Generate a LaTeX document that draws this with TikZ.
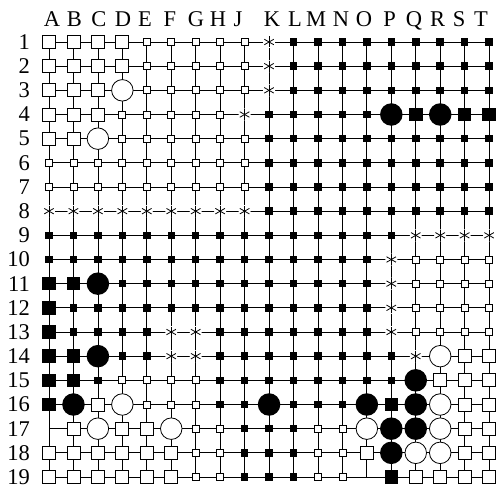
\documentclass[tikz,border=0pt]{standalone}
\usepackage{fontspec}
\setmainfont{Liberation Serif}
\begin{document}
\begin{tikzpicture}[x=1pt,y=-1pt,
  gridline/.style={line width=0.8pt, black},
  mW/.style={rectangle, draw=black, fill=white, line width=0.8pt, minimum size=13pt, inner sep=0pt},
  mw/.style={rectangle, draw=black, fill=white, line width=0.8pt, minimum size=7pt, inner sep=0pt},
  mB/.style={rectangle, fill=black, minimum size=13.5pt, inner sep=0pt},
  mb/.style={rectangle, fill=black, minimum size=7.5pt, inner sep=0pt},
  mO/.style={circle, draw=black, fill=white, line width=0.8pt, minimum size=21.5pt, inner sep=0pt},
  mX/.style={circle, fill=black, minimum size=22.5pt, inner sep=0pt},
  mA/.style={circle, fill=white, minimum size=12pt, inner sep=0pt,
    path picture={\foreach \a in {90,30,150}{\draw[line width=0.8pt] (path picture bounding box.center) ++(\a:5.5pt) -- ++(\a+180:11pt);}}},
  mE/.style={inner sep=0pt, minimum size=0pt},
  lab/.style={font=\fontsize{22.5}{26}\selectfont, inner sep=0pt}]
\useasboundingbox (0,0) rectangle (497,489);
% grid
\foreach \i in {0,...,18}{
  \draw[gridline] ({49+24.45*\i},42) -- ({49+24.45*\i},477);
  \draw[gridline] (49,{42+24.1667*\i}) -- (489.1,{42+24.1667*\i});
}
% column letters
\foreach \l/\x in {A/52,B/74.5,C/99,D/123,E/145,F/170,G/196,H/218,J/238,K/272,L/295,M/316,N/341,O/364,P/389.5,Q/414,R/437.5,S/459,T/481}{
  \node[lab, anchor=base] (c\l) at (\x,26.5) {\l};
}
% row numbers
\foreach \j in {1,...,19}{
  \node[lab, anchor=east] (r\j) at (30,{42+24.1667*(\j-1)}) {\j};
}
% board contents
\foreach \row [count=\j] in {
 {W,W,W,W,w,w,w,w,w,A,b,b,b,b,b,b,b,b,b},
 {W,W,W,W,w,w,w,w,w,A,b,b,b,b,b,b,b,b,b},
 {W,W,W,O,w,w,w,w,w,A,b,b,b,b,b,b,b,b,b},
 {W,W,W,w,w,w,w,w,A,b,b,b,b,b,X,B,X,B,B},
 {W,W,O,w,w,w,w,w,w,b,b,b,b,b,b,b,b,b,b},
 {w,w,w,w,w,w,w,w,w,b,b,b,b,b,b,b,b,b,b},
 {w,w,w,w,w,w,w,w,w,b,b,b,b,b,b,b,b,b,b},
 {A,A,A,A,A,A,A,A,A,b,b,b,b,b,b,b,b,b,b},
 {b,b,b,b,b,b,b,b,b,b,b,b,b,b,b,A,A,A,A},
 {b,b,b,b,b,b,b,b,b,b,b,b,b,b,A,w,w,w,w},
 {B,B,X,b,b,b,b,b,b,b,b,b,b,b,A,w,w,w,w},
 {B,b,b,b,b,b,b,b,b,b,b,b,b,b,A,w,w,w,w},
 {B,b,b,b,b,A,A,b,b,b,b,b,b,b,A,w,w,w,w},
 {B,B,X,b,b,A,A,b,b,b,b,b,b,b,b,A,O,W,W},
 {B,B,b,w,w,w,w,b,b,b,b,b,b,b,b,X,W,W,W},
 {B,X,W,O,w,w,w,b,b,X,b,b,b,X,B,X,O,W,W},
 {E,W,O,W,W,O,w,w,b,b,b,w,w,O,X,X,O,W,W},
 {W,W,W,W,W,W,w,w,b,b,b,w,w,W,X,O,O,W,W},
 {W,W,W,W,W,W,w,w,b,b,b,w,w,E,B,W,W,W,W}}{
  \foreach \c [count=\i from 0] in \row {
    \node[m\c] (p\i-\j) at ({49+24.45*\i},{42+24.1667*(\j-1)}) {};
  }
}
\end{tikzpicture}
\end{document}
